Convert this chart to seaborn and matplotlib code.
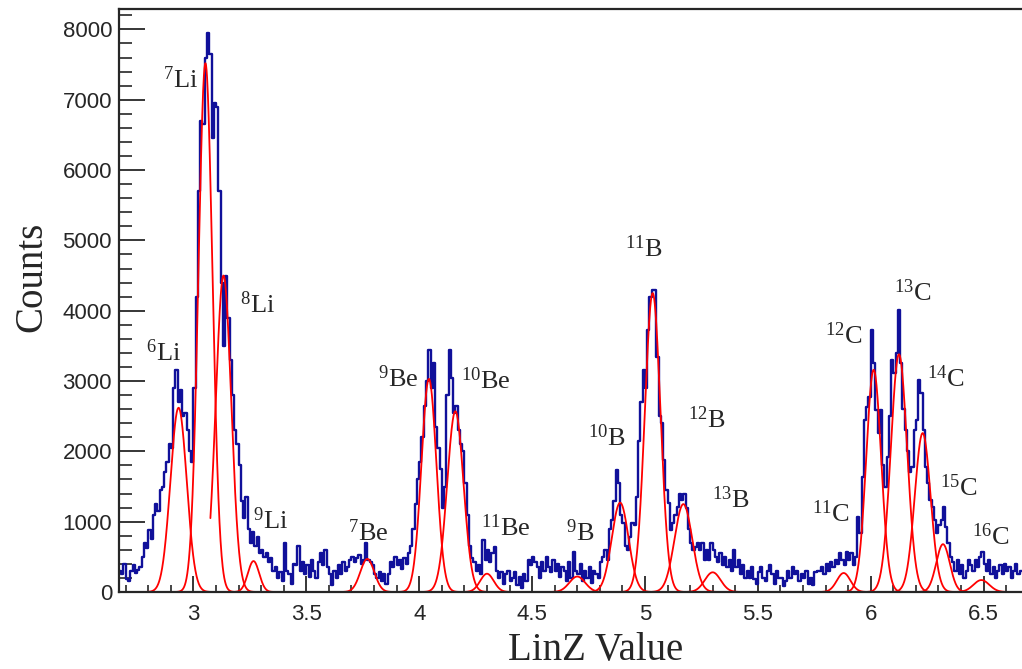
import numpy as np
import pandas as pd
import matplotlib
matplotlib.use("Agg")
import matplotlib.pyplot as plt
from matplotlib.ticker import MultipleLocator
import seaborn as sns

# histogram: 400 bins of width 0.01 from 2.67 to 6.67
bin_lo = 2.67
bin_width = 0.01
counts = [
    300, 250, 400, 180, 150, 300, 380, 270, 310, 350,
    500, 700, 620, 880, 760, 1100, 1250, 1150, 1450, 1500,
    1700, 1850, 2100, 2050, 2900, 3150, 2700, 2870, 2500, 2550,
    2300, 2000, 1850, 2900, 4200, 5700, 6700, 6650, 7600, 7950,
    7650, 6450, 6950, 6900, 5700, 4400, 3500, 4500, 3900, 3300,
    2800, 2300, 2100, 1800, 1300, 1050, 1350, 900, 700, 850,
    650, 780, 550, 600, 500, 560, 420, 480, 300, 360,
    200, 280, 150, 700, 300, 250, 120, 400, 380, 650,
    300, 420, 250, 380, 220, 450, 300, 200, 420, 550,
    380, 600, 360, 250, 100, 300, 200, 380, 250, 420,
    300, 350, 450, 500, 420, 480, 520, 400, 450, 700,
    450, 420, 380, 250, 200, 280, 150, 250, 120, 250,
    420, 350, 500, 380, 450, 320, 480, 400, 550, 650,
    900, 1250, 1600, 1850, 2200, 2650, 3000, 3440, 2900, 3250,
    2350, 2050, 1750, 1200, 1500, 2800, 3440, 3050, 2550, 2650,
    2300, 2100, 2000, 1550, 1100, 650, 480, 420, 300, 380,
    250, 740, 450, 600, 420, 550, 640, 300, 200, 280,
    120, 250, 300, 150, 200, 280, 100, 220, 60, 250,
    150, 450, 380, 500, 420, 350, 200, 420, 300, 500,
    350, 280, 450, 300, 400, 220, 350, 300, 150, 420,
    200, 570, 300, 250, 400, 150, 300, 200, 350, 130,
    300, 250, 200, 420, 500, 600, 450, 900, 1020, 1300,
    1730, 1550, 1100, 980, 650, 600, 780, 980, 950, 1350,
    2150, 2700, 3150, 2900, 3720, 4190, 4290, 4290, 3340, 2500,
    2400, 1880, 1450, 1260, 880, 980, 1100, 1210, 1400, 1310,
    1400, 1200, 900, 700, 600, 640, 700, 600, 700, 450,
    600, 450, 700, 600, 500, 420, 560, 380, 500, 350,
    450, 300, 600, 350, 450, 250, 380, 200, 300, 200,
    350, 180, 120, 280, 350, 200, 150, 300, 380, 250,
    120, 300, 200, 200, 80, 150, 300, 200, 350, 250,
    300, 150, 250, 200, 300, 120, 200, 100, 280, 300,
    300, 350, 250, 400, 300, 420, 350, 450, 400, 550,
    450, 380, 570, 450, 550, 380, 500, 1070, 840, 1640,
    2440, 2630, 2770, 3720, 3250, 2590, 2260, 2590, 1800, 1500,
    1920, 2500, 3300, 3110, 3400, 4010, 3250, 2600, 2300, 2000,
    1700, 1780, 2300, 2440, 3010, 2830, 2300, 1780, 1550, 1310,
    1210, 1020, 840, 950, 1020, 1210, 920, 700, 500, 420,
    300, 450, 250, 380, 200, 300, 450, 380, 300, 450,
    350, 500, 570, 400, 300, 450, 250, 350, 200, 300,
    380, 250, 400, 300, 350, 200, 300, 400, 250, 300,
]

# gaussian fit results per isotope
mass_numbers = ["6", "7", "8", "9", "7", "9", "10", "11",
                "9", "10", "11", "12", "13",
                "11", "12", "13", "14", "15", "16"]
elements = ["Li", "Li", "Li", "Li", "Be", "Be", "Be", "Be",
            "B", "B", "B", "B", "B",
            "C", "C", "C", "C", "C", "C"]
fit_mean = [2.934, 3.053, 3.133, 3.266, 3.770, 4.043, 4.160, 4.300,
            4.700, 4.890, 5.034, 5.170, 5.300,
            5.880, 6.013, 6.125, 6.230, 6.320, 6.490]
fit_amp = [2620, 7520, 4500, 440, 470, 3030, 2570, 260,
           220, 1270, 4250, 1250, 280,
           270, 3160, 3380, 2260, 680, 170]
fit_sigma = [0.036, 0.031, 0.034, 0.025, 0.031, 0.033, 0.036, 0.030,
             0.035, 0.037, 0.0345, 0.039, 0.035,
             0.030, 0.033, 0.036, 0.035, 0.030, 0.035]
fit_lo = [2.73, 2.90, 3.075, 3.10, 3.58, 3.85, 3.98, 4.10,
          4.50, 4.69, 4.85, 5.00, 5.10,
          5.59, 5.85, 5.95, 6.05, 6.15, 6.30]
fit_hi = [3.10, 3.25, 3.40, 3.55, 3.95, 4.25, 4.35, 4.66,
          4.85, 5.05, 5.20, 5.35, 5.45,
          6.00, 6.20, 6.30, 6.40, 6.50, 6.60]

# label positions (LinZ, counts)
label_x = [2.867, 2.942, 3.284, 3.341, 3.775, 3.908, 4.294, 4.382,
           4.715, 4.830, 4.994, 5.273, 5.379,
           5.822, 5.880, 6.186, 6.332, 6.389, 6.531]
label_y = [3410, 7280, 4080, 1020, 840, 3040, 3000, 920,
           850, 2190, 4880, 2450, 1320,
           1110, 3650, 4250, 3030, 1490, 780]

centers = bin_lo + bin_width * (np.arange(len(counts)) + 0.5)
df = pd.DataFrame({"linz": centers, "counts": counts})

sns.set_style("ticks")
plt.rcParams["font.family"] = ["Liberation Sans", "DejaVu Sans"]
plt.rcParams["mathtext.fontset"] = "custom"
plt.rcParams["mathtext.rm"] = "Liberation Serif"
plt.rcParams["mathtext.it"] = "Liberation Serif:italic"

fig = plt.figure(figsize=(10.22, 6.69), dpi=100)
ax = fig.add_axes([0.1164, 0.1151, 0.8836, 0.8714])

sns.histplot(data=df, x="linz", weights="counts", binwidth=bin_width,
             binrange=(bin_lo, bin_lo + bin_width * len(counts)),
             element="step", fill=False, color="#10109a", linewidth=1.7, ax=ax)

for i in range(len(elements)):
    xs = np.linspace(fit_lo[i], fit_hi[i], 300)
    ys = fit_amp[i] * np.exp(-0.5 * ((xs - fit_mean[i]) / fit_sigma[i]) ** 2)
    sns.lineplot(x=xs, y=ys, color="red", linewidth=1.3, estimator=None,
                 sort=False, ax=ax)

for m, el, lx, ly in zip(mass_numbers, elements, label_x, label_y):
    ax.text(lx, ly, r"$^{%s}\mathrm{%s}$" % (m, el), fontsize=19,
            ha="center", va="center")

ax.set_xlim(2.67, 6.67)
ax.set_ylim(0, 8290)
ax.xaxis.set_major_locator(MultipleLocator(0.5))
ax.xaxis.set_minor_locator(MultipleLocator(0.1))
ax.yaxis.set_major_locator(MultipleLocator(1000))
ax.yaxis.set_minor_locator(MultipleLocator(200))
ax.set_xticks([3, 3.5, 4, 4.5, 5, 5.5, 6, 6.5])
ax.set_xticklabels(["3", "3.5", "4", "4.5", "5", "5.5", "6", "6.5"])

ax.tick_params(axis="y", which="major", direction="in", length=19, width=1.3,
               labelsize=16, pad=5)
ax.tick_params(axis="y", which="minor", direction="in", length=9.5, width=1.2)
ax.tick_params(axis="x", which="major", direction="in", length=11.5, width=1.3,
               labelsize=16, pad=9)
ax.tick_params(axis="x", which="minor", direction="in", length=5, width=1.2)

for side in ["left", "bottom", "top"]:
    ax.spines[side].set_linewidth(1.6)
ax.spines["right"].set_visible(False)

ax.set_xlabel("LinZ Value", family="Liberation Serif", fontsize=28)
ax.set_ylabel("Counts", family="Liberation Serif", fontsize=28)
ax.xaxis.label.set_va("center")
ax.yaxis.label.set_va("center")
ax.xaxis.set_label_coords(0.528, -0.0995)
ax.yaxis.set_label_coords(-0.0966, 0.54)

fig.savefig("out.png", dpi=100)
